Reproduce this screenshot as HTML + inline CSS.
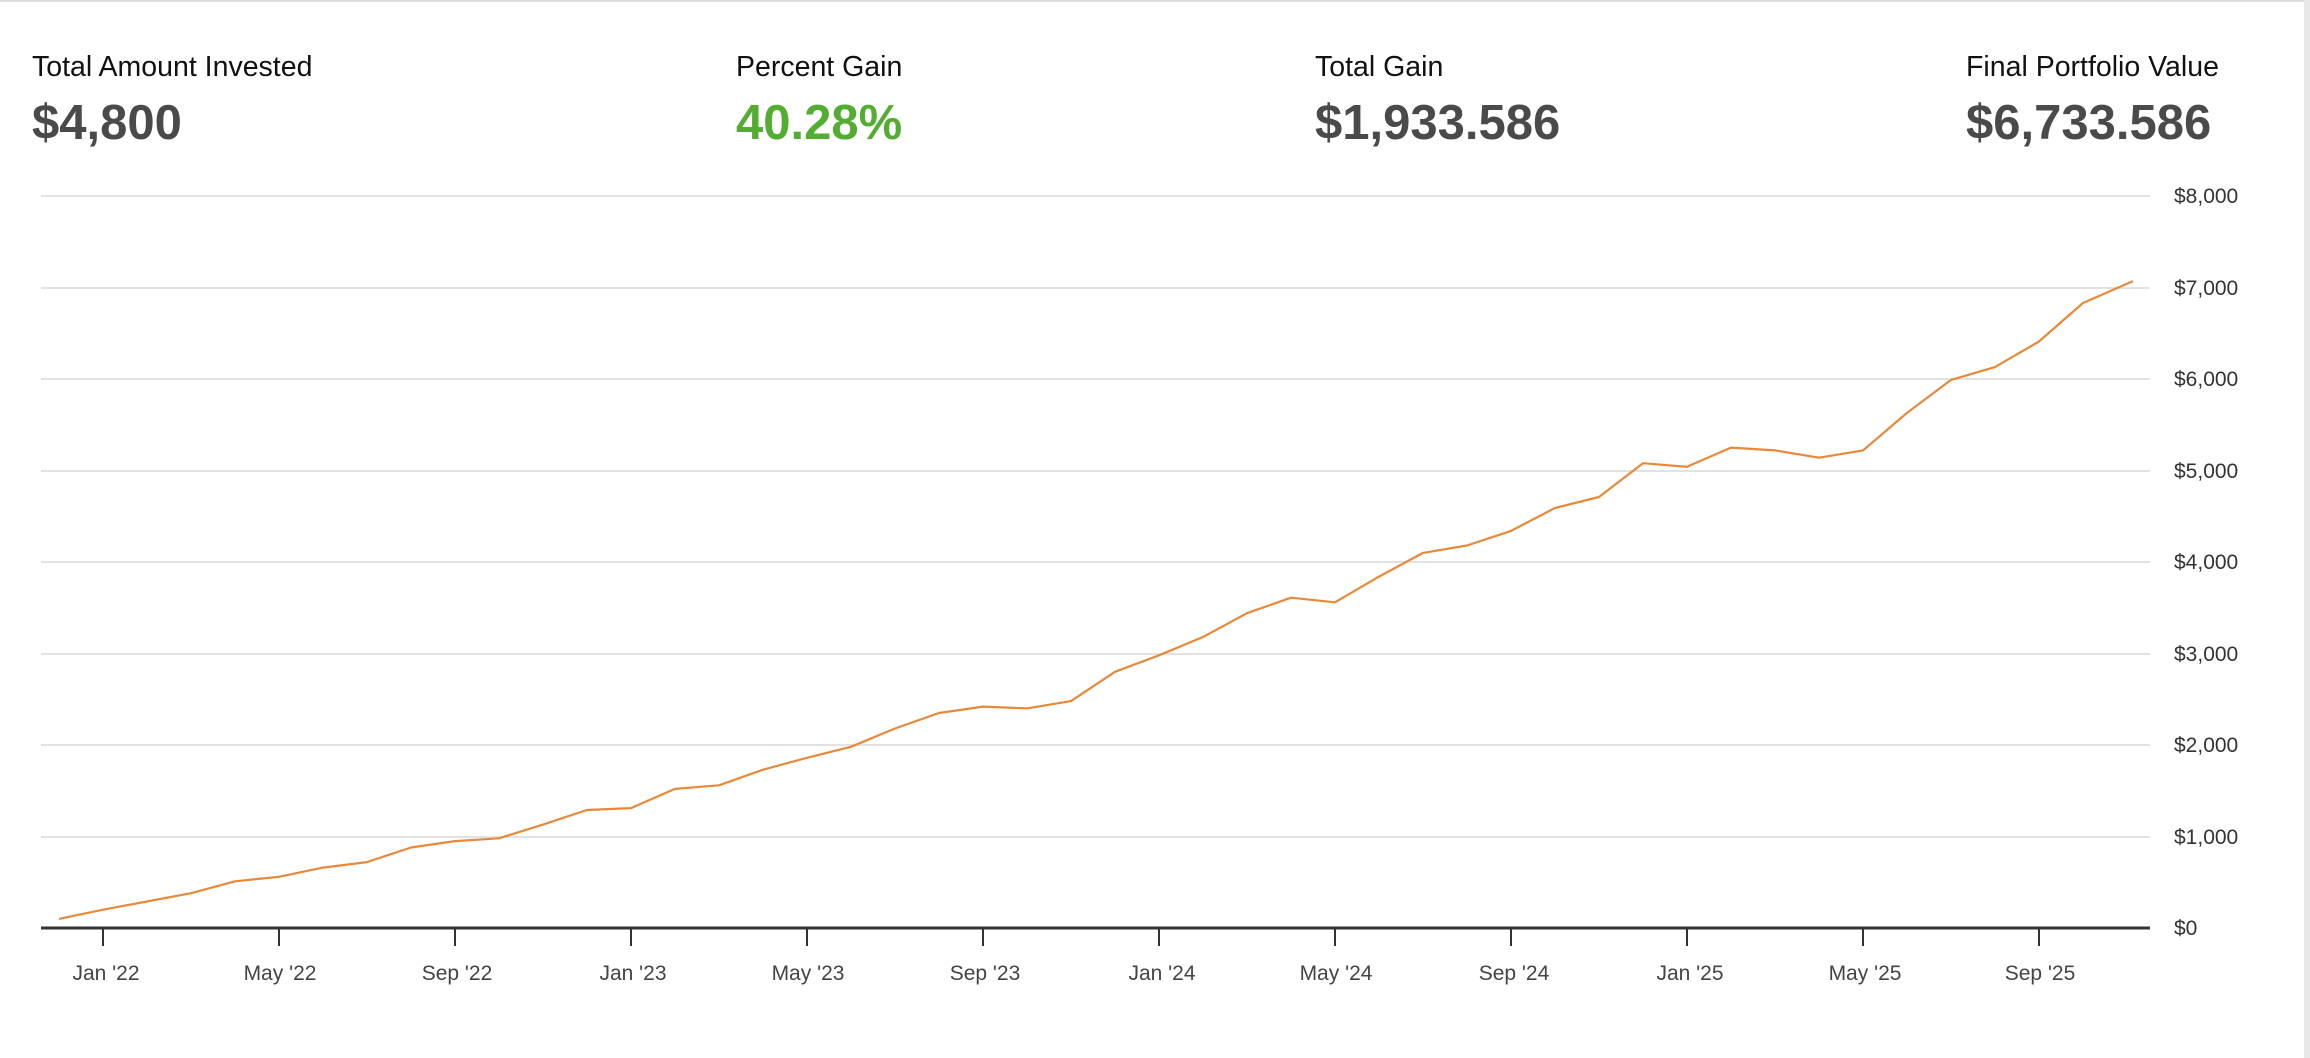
<!DOCTYPE html>
<html><head><meta charset="utf-8"><style>
html,body{margin:0;padding:0;background:#fff;}
body{width:2310px;height:1058px;position:relative;overflow:hidden;font-family:"Liberation Sans",Arial,sans-serif;}
.lbl{position:absolute;top:51px;font-size:28.5px;color:#111;}
.val{position:absolute;top:95px;font-size:49px;font-weight:bold;color:#4a4a4a;letter-spacing:0px;}
</style></head><body>
<div style="position:absolute;left:0;top:0;width:2310px;height:2px;background:#ddd"></div>
<div style="position:absolute;left:2304px;top:0;width:6px;height:1058px;background:#e8e8e8"></div>
<div class="lbl" style="left:32px">Total Amount Invested</div>
<div class="val" style="left:32px">$4,800</div>
<div class="lbl" style="left:736px">Percent Gain</div>
<div class="val" style="left:736px;color:#52ad30">40.28%</div>
<div class="lbl" style="left:1315px">Total Gain</div>
<div class="val" style="left:1315px">$1,933.586</div>
<div class="lbl" style="left:1966px">Final Portfolio Value</div>
<div class="val" style="left:1966px">$6,733.586</div>
<svg width="2310" height="1058" style="position:absolute;left:0;top:0" font-family="Liberation Sans, Arial, sans-serif">
<g stroke="#e2e2e2" stroke-width="2">
<line x1="41" x2="2150" y1="196" y2="196"/><line x1="41" x2="2150" y1="288" y2="288"/>
<line x1="41" x2="2150" y1="379" y2="379"/><line x1="41" x2="2150" y1="471" y2="471"/>
<line x1="41" x2="2150" y1="562" y2="562"/><line x1="41" x2="2150" y1="654" y2="654"/>
<line x1="41" x2="2150" y1="745" y2="745"/><line x1="41" x2="2150" y1="837" y2="837"/>
</g>
<g font-size="21" fill="#333">
<text x="2174" y="203">$8,000</text><text x="2174" y="295">$7,000</text>
<text x="2174" y="386">$6,000</text><text x="2174" y="478">$5,000</text>
<text x="2174" y="569">$4,000</text><text x="2174" y="661">$3,000</text>
<text x="2174" y="752">$2,000</text><text x="2174" y="844">$1,000</text>
<text x="2174" y="935">$0</text>
</g>
<line x1="41" x2="2150" y1="928" y2="928" stroke="#333" stroke-width="3"/>
<g stroke="#333" stroke-width="2">
<line x1="103" x2="103" y1="928" y2="946"/><line x1="279" x2="279" y1="928" y2="946"/>
<line x1="455" x2="455" y1="928" y2="946"/><line x1="631" x2="631" y1="928" y2="946"/>
<line x1="807" x2="807" y1="928" y2="946"/><line x1="983" x2="983" y1="928" y2="946"/>
<line x1="1159" x2="1159" y1="928" y2="946"/><line x1="1335" x2="1335" y1="928" y2="946"/>
<line x1="1511" x2="1511" y1="928" y2="946"/><line x1="1687" x2="1687" y1="928" y2="946"/>
<line x1="1863" x2="1863" y1="928" y2="946"/><line x1="2039" x2="2039" y1="928" y2="946"/>
</g>
<g font-size="21" fill="#444" text-anchor="middle">
<text x="106" y="980">Jan '22</text><text x="280" y="980">May '22</text>
<text x="457" y="980">Sep '22</text><text x="633" y="980">Jan '23</text>
<text x="808" y="980">May '23</text><text x="985" y="980">Sep '23</text>
<text x="1162" y="980">Jan '24</text><text x="1336" y="980">May '24</text>
<text x="1514" y="980">Sep '24</text><text x="1690" y="980">Jan '25</text>
<text x="1865" y="980">May '25</text><text x="2040" y="980">Sep '25</text>
</g>
<polyline fill="none" stroke="#e8893a" stroke-width="2.2" stroke-linejoin="round" points="59,918.9 103,909.7 147,901.5 191,893.2 235,881.3 279,876.8 323,867.6 367,862.1 411,847.5 455,841.1 499,838.3 543,824.6 587,810 631,808.1 675,788.9 719,785.3 763,769.7 807,757.8 851,746.8 895,728.5 939,713 983,706.6 1027,708.4 1071,701.1 1115,671.8 1159,655.3 1203,637 1247,613.2 1291,597.7 1335,602.3 1379,576.6 1423,552.9 1467,545.5 1511,530.9 1555,508 1599,497 1643,463.2 1687,466.8 1731,447.6 1775,450.4 1819,457.7 1863,450.4 1907,412.9 1951,379.9 1995,367.1 2039,341.5 2083,303 2133,281.1"/>
</svg>
</body></html>
